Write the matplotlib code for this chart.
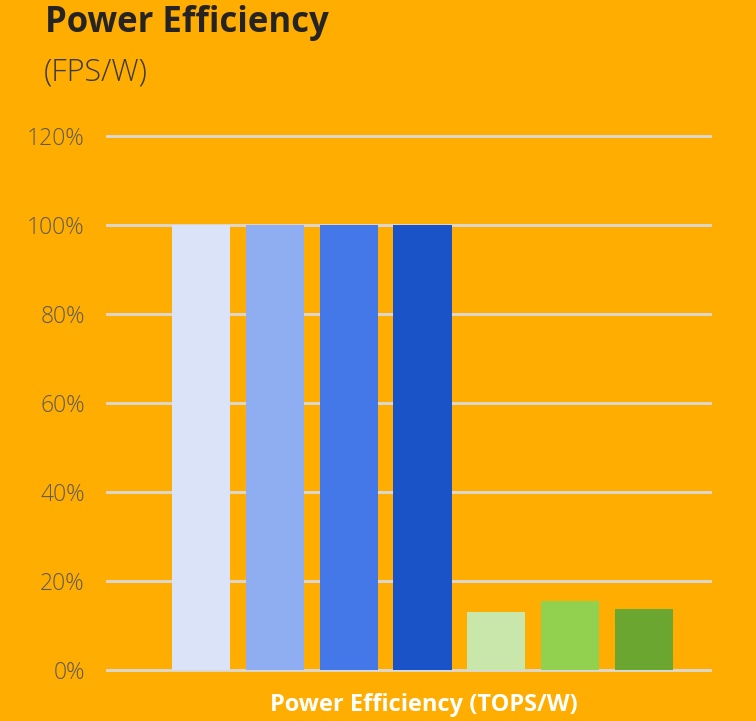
import numpy as np
import matplotlib.pyplot as plt

# data
categories = ["A", "B", "C", "D", "E", "F", "G"]
values = [100, 100, 100, 100, 13.0, 15.5, 13.6]
colors = ["#DAE3F8", "#8FAEF2", "#4477E8", "#1A52C8", "#C9E7AA", "#92D050", "#6AA630"]
yticks = [0, 20, 40, 60, 80, 100, 120]
ytick_labels = ["0%", "20%", "40%", "60%", "80%", "100%", "120%"]

bg = "#FFAD00"
plt.rcParams['font.family'] = ['Open Sans', 'DejaVu Sans']

fig = plt.figure(figsize=(7.56, 7.21), dpi=100, facecolor=bg)
ax = fig.add_axes([107/756, 1-670/721, (710-107)/756, (670-136)/721])
ax.set_facecolor(bg)

x = np.arange(len(categories))
ax.bar(x, values, width=0.79, color=colors, zorder=3)

ax.set_xlim(-1.28, 6.9)
ax.set_ylim(0, 120)
ax.set_yticks(yticks)
ax.set_yticklabels(ytick_labels, color="#5E5A55", fontsize=16.5, fontweight="light")
ax.tick_params(axis='y', length=0, pad=16)
ax.set_xticks([])
for y in yticks:
    ax.axhline(y, color="#D9D9D9", lw=2, zorder=1, clip_on=False)
for s in ax.spines.values():
    s.set_visible(False)

ax.set_xlabel("Power Efficiency (TOPS/W)", color="white", fontsize=17,
              fontweight="bold")
ax.xaxis.set_label_coords((423.5-107)/(710-107), -(705-670)/(670-136), transform=ax.transAxes)
ax.xaxis.label.set_va("center")

fig.text(45/756, 1-23/721, "Power Efficiency", fontsize=25, fontweight="bold",
         color="#252423", va="center", ha="left")
fig.text(44/756, 1-72/721, "(FPS/W)", fontsize=22, fontweight="light",
         color="#3B3A39", va="center", ha="left")

plt.savefig("out.png", dpi=100, facecolor=bg)
